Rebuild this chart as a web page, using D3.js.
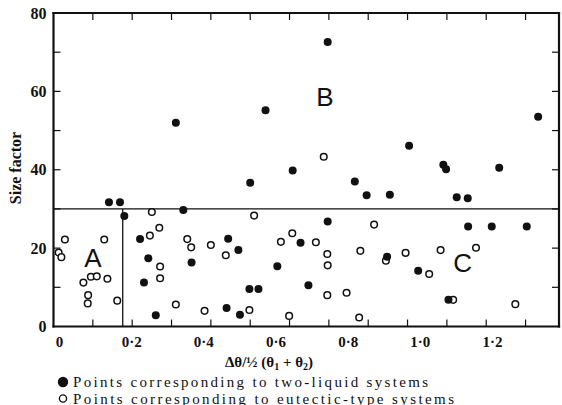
<!DOCTYPE html>
<html>
<head>
<meta charset="utf-8">
<script src="https://cdn.jsdelivr.net/npm/d3@7"></script>
<style>
body{margin:0;background:#fff}
</style>
</head>
<body>
<svg id="svg1" width="562" height="405"></svg>
<script>
// two-liquid systems (filled)
var twoLiquidX=[0.311,0.697,0.539,0.608,0.500,0.766,0.796,0.904,0.991,0.998,1.133,1.232,0.855,1.025,1.053,
    0.141,0.169,0.180,0.330,0.697,1.054,1.114,1.203,0.848,0.927,1.004,0.220,0.241,0.230,0.260,
    0.351,0.444,0.470,0.440,0.474,0.498,0.521,0.569,0.628,0.648]
var twoLiquidY=[52.0,72.6,55.2,39.8,36.7,37.0,33.5,46.1,41.3,40.1,40.5,53.5,33.6,33.0,32.7,
    31.7,31.7,28.2,29.7,26.8,25.5,25.5,25.5,17.8,14.2,6.8,22.3,17.4,11.2,2.9,
    16.3,22.4,19.5,4.7,3.0,9.6,9.6,15.4,21.4,10.5]
// eutectic-type systems (open)
var eutecticX=[0.687,0.250,0.510,0.815,0.029,0.013,0.020,0.129,0.076,0.095,0.110,0.137,0.088,0.087,0.162,
    0.269,0.245,0.271,0.271,0.340,0.350,0.400,0.438,0.311,0.384,0.498,0.599,0.578,0.607,0.667,
    0.696,0.697,0.696,0.745,0.777,0.780,0.845,0.895,0.984,1.074,0.955,1.016,1.174]
var eutecticY=[43.3,29.2,28.3,26.0,22.2,18.9,17.7,22.2,11.2,12.7,12.8,12.2,8.0,5.9,6.6,
    25.2,23.2,15.3,12.3,22.3,20.2,20.8,18.2,5.6,4.0,4.2,2.7,21.6,23.8,21.5,
    18.5,15.6,8.0,8.6,2.3,19.3,16.8,18.8,19.5,20.1,13.4,6.8,5.7]

var xTickLabels=[0,0.2,0.4,0.6,0.8,1.0,1.2]
var xMinorTicks=[0.1,0.2,0.3,0.4,0.5,0.6,0.7,0.8,0.9,1.0,1.1,1.2]
var yTickLabels=[0,20,40,60,80]
var yMinorTicks=[10,20,30,40,50,60,70]
var sizeLimit=30
var boundaryX=0.176
var regions=[["A",0.10,17.5],["B",0.69,58.6],["C",1.04,16.1]]
var legendText=["Points corresponding to two-liquid systems","Points corresponding to eutectic-type systems"]

var serif="'Liberation Serif','DejaVu Serif',serif"
var svg=d3.select("#svg1")
var x=d3.scaleLinear().domain([0,1.285]).range([53.5,559])
var y=d3.scaleLinear().domain([0,80]).range([326.5,13])
// the printed numbers sit on their own spacing, not on the ticks
var xl=d3.scaleLinear().domain([0,1.2]).range([59,492])

function dotted(d){ return d===0 ? "0" : d3.format(".1f")(d).replace(".","\u00b7") }

// frame first, as plain lines
var edges=[[0,0,1.285,0],[0,80,1.285,80],[0,0,0,80],[1.285,0,1.285,80]]
svg.selectAll(".edge").data(edges).enter().append("line")
    .attr("x1",e=>x(e[0])).attr("y1",e=>y(e[1]))
    .attr("x2",e=>x(e[2])).attr("y2",e=>y(e[3]))
    .attr("stroke","#111").attr("stroke-width",2.2).attr("stroke-linecap","square")

svg.selectAll(".tb").data(xMinorTicks).enter().append("line")
    .attr("x1",v=>x(v)).attr("x2",v=>x(v)).attr("y1",y(0)).attr("y2",y(0)-7)
    .attr("stroke","#111").attr("stroke-width",1.2)
svg.selectAll(".tt").data(xMinorTicks).enter().append("line")
    .attr("x1",v=>x(v)).attr("x2",v=>x(v)).attr("y1",y(80)).attr("y2",y(80)+7)
    .attr("stroke","#111").attr("stroke-width",1.2)
svg.selectAll(".tlft").data(yMinorTicks).enter().append("line")
    .attr("x1",x(0)).attr("x2",x(0)+7).attr("y1",v=>y(v)).attr("y2",v=>y(v))
    .attr("stroke","#111").attr("stroke-width",1.2)
svg.selectAll(".trgt").data(yMinorTicks).enter().append("line")
    .attr("x1",x(1.285)).attr("x2",x(1.285)-7).attr("y1",v=>y(v)).attr("y2",v=>y(v))
    .attr("stroke","#111").attr("stroke-width",1.2)

svg.append("line")
    .attr("x1",x(0)).attr("x2",x(1.285))
    .attr("y1",y(sizeLimit)).attr("y2",y(sizeLimit))
    .attr("stroke","#111").attr("stroke-width",1.3)
svg.append("line")
    .attr("x1",x(boundaryX)).attr("x2",x(boundaryX))
    .attr("y1",y(sizeLimit)).attr("y2",y(0))
    .attr("stroke","#111").attr("stroke-width",1.3)

var yl=svg.append("g").attr("transform","translate("+x(0)+",0)")
    .call(d3.axisLeft(y).tickValues(yTickLabels).tickSize(0).tickPadding(7))
yl.select(".domain").remove()
yl.selectAll("text").attr("font-size",16).attr("font-weight","bold")
    .attr("font-family",serif).attr("fill","#111")

var xlab=svg.append("g").attr("transform","translate(0,"+y(0)+")")
    .call(d3.axisBottom(xl).tickValues(xTickLabels).tickSize(0).tickPadding(10).tickFormat(dotted))
xlab.select(".domain").remove()
xlab.selectAll("text").attr("font-size",15).attr("font-weight","bold")
    .attr("font-family",serif).attr("fill","#111")

svg.selectAll(".reg").data(regions).enter().append("text")
    .attr("x",d=>x(d[1])).attr("y",d=>y(d[2])+9)
    .attr("text-anchor","middle")
    .attr("font-size",26).attr("fill","#111")
    .attr("font-family","'Liberation Sans',sans-serif")
    .text(d=>d[0])

svg.selectAll(".eu").data(eutecticX).enter().append("circle")
    .attr("cx",d=>x(d)).attr("cy",(d,i)=>y(eutecticY[i]))
    .attr("r",3.3).attr("fill","#fff").attr("stroke","#111").attr("stroke-width",1.5)

svg.selectAll(".tl").data(twoLiquidX).enter().append("circle")
    .attr("cx",d=>x(d)).attr("cy",(d,i)=>y(twoLiquidY[i]))
    .attr("r",4).attr("fill","#111")

svg.append("text")
    .attr("transform","translate(21,168) rotate(-90)")
    .attr("text-anchor","middle").attr("font-size",16).attr("font-weight","bold")
    .attr("font-family",serif).attr("fill","#111")
    .text("Size factor")

var t=svg.append("text").attr("x",269).attr("y",367)
    .attr("text-anchor","middle").attr("font-size",15).attr("font-weight","bold")
    .attr("font-family",serif).attr("fill","#111")
t.append("tspan").text("\u0394\u03b8/\u00bd (\u03b8")
t.append("tspan").attr("font-size",10).attr("dy",3).text("1")
t.append("tspan").attr("dy",-3).text(" + \u03b8")
t.append("tspan").attr("font-size",10).attr("dy",3).text("2")
t.append("tspan").attr("dy",-3).text(")")

var lg=svg.selectAll(".lg").data(legendText).enter().append("g")
    .attr("transform",(d,i)=>"translate(63,"+(382+i*16.5)+")")
lg.append("circle").attr("r",(d,i)=>i==0?4.5:3.6)
    .attr("fill",(d,i)=>i==0?"#111":"#fff").attr("stroke","#111").attr("stroke-width",1.4)
lg.append("text").attr("x",10).attr("y",5)
    .attr("font-size",15).attr("font-family",serif).attr("fill","#111")
    .attr("textLength",(d,i)=>i==0?355:381).attr("lengthAdjust","spacing")
    .text(d=>d)
</script>
</body>
</html>
